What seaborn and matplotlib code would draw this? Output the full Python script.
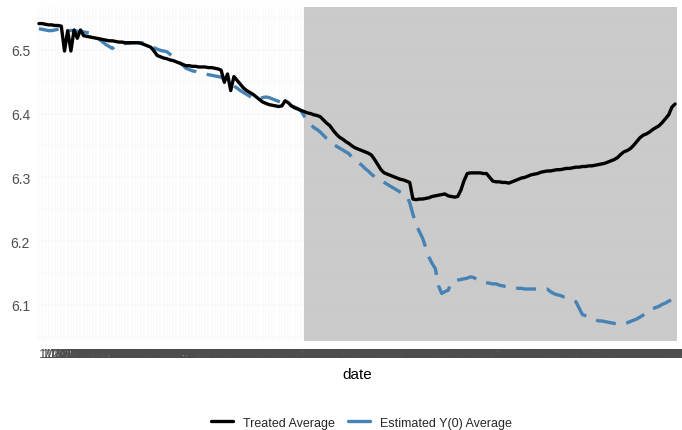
import pandas as pd
import numpy as np
import matplotlib
matplotlib.use("Agg")
import matplotlib.pyplot as plt
import seaborn as sns
from matplotlib.lines import Line2D
from matplotlib.ticker import MultipleLocator

# dates on a discrete axis (one category per day)
dates = pd.date_range("2019-01-01", periods=200, freq="D").strftime("%-m/%-d/%Y").tolist()
treat_start = 83  # index of first treated date

treated_avg = [
    6.541, 6.541, 6.540, 6.539, 6.539, 6.538, 6.538, 6.537, 6.498, 6.530,
    6.498, 6.531, 6.518, 6.531, 6.522, 6.521, 6.520, 6.519, 6.518, 6.517,
    6.516, 6.515, 6.514, 6.514, 6.513, 6.512, 6.512, 6.511, 6.511, 6.511,
    6.511, 6.511, 6.510, 6.508, 6.506, 6.504, 6.498, 6.491, 6.489, 6.487,
    6.486, 6.484, 6.483, 6.481, 6.479, 6.477, 6.475, 6.475, 6.474, 6.474,
    6.473, 6.473, 6.473, 6.472, 6.472, 6.471, 6.470, 6.468, 6.449, 6.462,
    6.436, 6.458, 6.452, 6.446, 6.440, 6.436, 6.433, 6.430, 6.426, 6.422,
    6.418, 6.416, 6.414, 6.413, 6.412, 6.411, 6.412, 6.420, 6.417, 6.412,
    6.409, 6.407, 6.405, 6.403, 6.401, 6.400, 6.398, 6.397, 6.395, 6.390,
    6.385, 6.381, 6.374, 6.368, 6.363, 6.360, 6.356, 6.353, 6.349, 6.346,
    6.344, 6.342, 6.340, 6.338, 6.335, 6.328, 6.320, 6.312, 6.307, 6.305,
    6.303, 6.301, 6.299, 6.297, 6.296, 6.294, 6.292, 6.266, 6.265, 6.266,
    6.266, 6.267, 6.268, 6.270, 6.271, 6.272, 6.273, 6.274, 6.271, 6.270,
    6.269, 6.270, 6.280, 6.295, 6.306, 6.307, 6.307, 6.307, 6.307, 6.306,
    6.306, 6.300, 6.294, 6.293, 6.293, 6.292, 6.292, 6.291, 6.293, 6.295,
    6.297, 6.299, 6.300, 6.302, 6.304, 6.305, 6.306, 6.308, 6.309, 6.310,
    6.310, 6.311, 6.312, 6.312, 6.313, 6.314, 6.314, 6.315, 6.316, 6.316,
    6.317, 6.317, 6.318, 6.318, 6.319, 6.320, 6.321, 6.322, 6.324, 6.326,
    6.328, 6.331, 6.336, 6.340, 6.342, 6.345, 6.350, 6.356, 6.362, 6.366,
    6.368, 6.371, 6.375, 6.378, 6.381, 6.386, 6.392, 6.398, 6.410, 6.415,
]

estimated_y0 = [
    6.533, 6.532, 6.531, 6.530, 6.530, 6.531, 6.532, 6.533, 6.532, 6.531,
    6.530, 6.530, 6.529, 6.528, 6.528, 6.527, 6.526, 6.524, 6.520, 6.516,
    6.512, 6.508, 6.505, 6.502, 6.507, 6.509, 6.509, 6.510, 6.510, 6.511,
    6.511, 6.511, 6.511, 6.510, 6.508, 6.506, 6.503, 6.501, 6.499, 6.498,
    6.497, 6.493, 6.489, 6.485, 6.480, 6.476, 6.471, 6.469, 6.467, 6.466,
    6.464, 6.463, 6.462, 6.461, 6.460, 6.459, 6.458, 6.457, 6.454, 6.450,
    6.447, 6.443, 6.440, 6.436, 6.433, 6.430, 6.427, 6.423, 6.423, 6.424,
    6.425, 6.426, 6.425, 6.423, 6.421, 6.419, 6.417, 6.416, 6.414, 6.412,
    6.410, 6.408, 6.404, 6.396, 6.389, 6.383, 6.378, 6.375, 6.371, 6.366,
    6.361, 6.357, 6.352, 6.349, 6.346, 6.343, 6.340, 6.337, 6.331, 6.327,
    6.323, 6.319, 6.314, 6.310, 6.305, 6.301, 6.298, 6.295, 6.292, 6.289,
    6.286, 6.283, 6.280, 6.277, 6.275, 6.272, 6.260, 6.242, 6.226, 6.215,
    6.205, 6.190, 6.175, 6.165, 6.157, 6.130, 6.118, 6.121, 6.123, 6.135,
    6.138, 6.139, 6.140, 6.141, 6.142, 6.144, 6.143, 6.140, 6.137, 6.136,
    6.135, 6.134, 6.133, 6.133, 6.131, 6.130, 6.129, 6.128, 6.128, 6.127,
    6.126, 6.126, 6.125, 6.125, 6.125, 6.125, 6.125, 6.125, 6.125, 6.125,
    6.121, 6.118, 6.116, 6.115, 6.113, 6.111, 6.109, 6.107, 6.105, 6.095,
    6.085, 6.083, 6.081, 6.079, 6.077, 6.075, 6.075, 6.074, 6.073, 6.072,
    6.071, 6.070, 6.070, 6.071, 6.072, 6.074, 6.076, 6.078, 6.081, 6.084,
    6.087, 6.091, 6.094, 6.096, 6.098, 6.101, 6.103, 6.106, 6.108, 6.110,
]

series_names = ["Treated Average", "Estimated Y(0) Average"]
colors = {"Treated Average": "black", "Estimated Y(0) Average": "#4682B4"}

df = pd.DataFrame({"date": dates, "Treated Average": treated_avg,
                   "Estimated Y(0) Average": estimated_y0})
df["pos"] = np.arange(len(dates))

sns.set_style("white")
plt.rcParams["font.family"] = ["Liberation Sans", "DejaVu Sans"]

fig = plt.figure(figsize=(6.82, 4.31), dpi=100)
ax = fig.add_axes([37 / 682, 1 - 342 / 431, 640 / 682, 334 / 431])

# treatment period shading
ax.axvspan(treat_start, len(dates) - 0.4, facecolor="#BEBEBE", alpha=0.8, lw=0, zorder=1)

sns.lineplot(data=df, x="pos", y="Estimated Y(0) Average", color=colors["Estimated Y(0) Average"],
             linewidth=2.4, dashes=False, ax=ax, zorder=3)
ax.lines[-1].set_dashes((6, 3.2))
sns.lineplot(data=df, x="pos", y="Treated Average", color=colors["Treated Average"],
             linewidth=2.4, ax=ax, zorder=4)

ax.set_xlim(-0.6, len(dates) - 0.4)
ax.set_ylim(6.0435, 6.567)

ax.set_xticks(df["pos"])
ax.set_xticklabels(dates, ha="left", fontsize=9.5, color="#4D4D4D")
ax.set_yticks([6.1, 6.2, 6.3, 6.4, 6.5])
ax.set_yticklabels(["6.1", "6.2", "6.3", "6.4", "6.5"], fontsize=10, color="#4D4D4D")
ax.yaxis.set_minor_locator(MultipleLocator(0.05))
ax.tick_params(axis="both", which="major", length=3, width=0.8, color="#333333", pad=2)
ax.tick_params(axis="y", which="minor", length=0)

ax.grid(True, which="major", color="#F0F0F0", lw=0.35)
ax.grid(True, which="minor", axis="y", color="#F5F5F5", lw=0.3)
ax.set_axisbelow(True)
for s in ax.spines.values():
    s.set_visible(False)

ax.set_xlabel("date", fontsize=11, color="black", labelpad=5)
ax.set_ylabel("")

handles = [Line2D([0], [0], color=colors[n], lw=2.4) for n in series_names]
fig.legend(handles, series_names, loc="center", bbox_to_anchor=(0.53, 0.017), ncol=2,
           frameon=False, fontsize=9, handlelength=1.8, columnspacing=1.0, handletextpad=0.8)

fig.savefig("out.png", dpi=100)
